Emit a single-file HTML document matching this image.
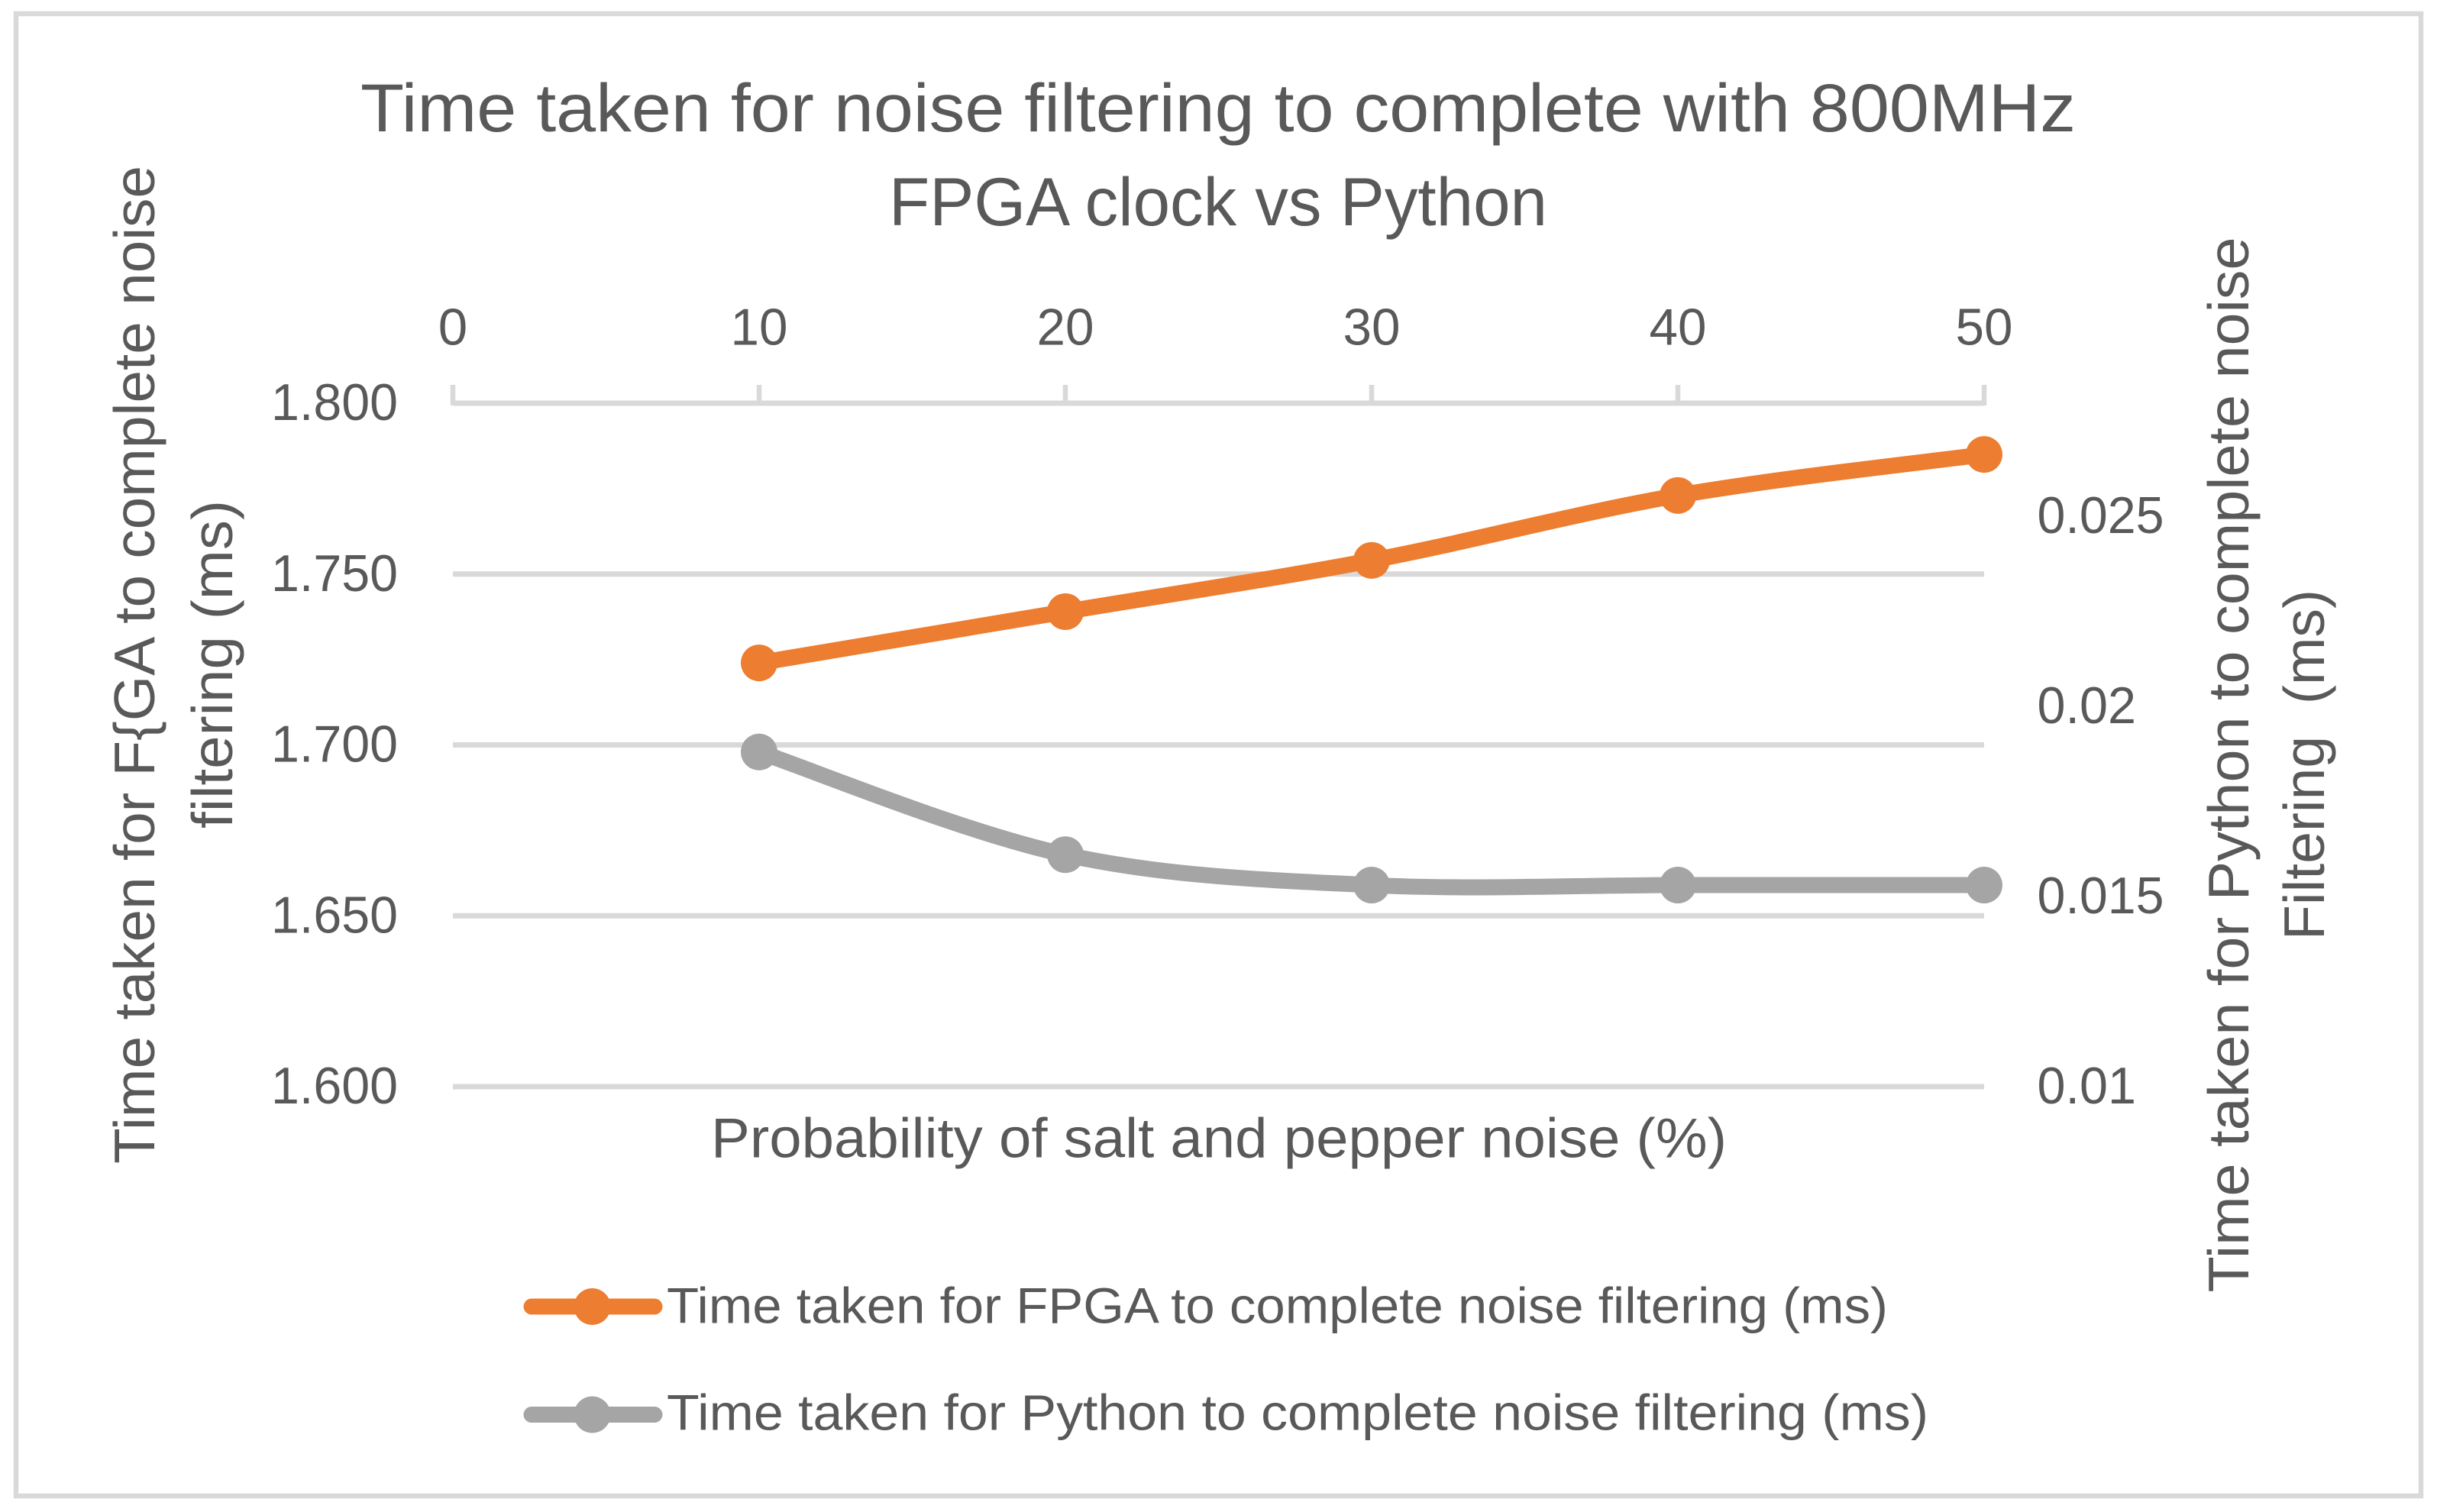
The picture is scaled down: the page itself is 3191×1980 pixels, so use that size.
<!DOCTYPE html>
<html lang="en">
<head>
<meta charset="utf-8">
<title>Time taken for noise filtering</title>
<style>
html,body{margin:0;padding:0;background:#fff;}
svg{display:block;}
text{font-family:"Liberation Sans",sans-serif;fill:#595959;}
</style>
</head>
<body>
<svg id="chart" xmlns="http://www.w3.org/2000/svg" width="3191" height="1980" viewBox="0 0 3191 1980">
  <rect x="0" y="0" width="3191" height="1980" fill="#fff"/>
  <rect x="21" y="18" width="3149" height="1941" fill="#fff" stroke="#d9d9d9" stroke-width="6.5"/>
  <g id="grid"></g>
  <g id="top-axis"></g>
  <g id="left-axis"></g>
  <g id="right-axis"></g>
  <g id="series"></g>

  <g>
    <text x="472" y="172" font-size="89" textLength="2246" lengthAdjust="spacingAndGlyphs">Time taken for noise filtering to complete with 800MHz</text>
    <text x="1164" y="295" font-size="89" textLength="862" lengthAdjust="spacingAndGlyphs">FPGA clock vs Python</text>
  </g>

  <text x="931" y="1515.5" font-size="73" textLength="1330" lengthAdjust="spacingAndGlyphs">Probability of salt and pepper noise (%)</text>

  <g>
    <text transform="translate(202,1524) rotate(-90)" font-size="75" textLength="1307" lengthAdjust="spacingAndGlyphs">Time taken for F{GA to complete noise</text>
    <text transform="translate(304,1085) rotate(-90)" font-size="75" textLength="430" lengthAdjust="spacingAndGlyphs">filtering (ms)</text>
  </g>
  <g>
    <text transform="translate(2944,1692.5) rotate(-90)" font-size="75" textLength="1382" lengthAdjust="spacingAndGlyphs">Time taken for Python to complete noise</text>
    <text transform="translate(3043,1231) rotate(-90)" font-size="75" textLength="459" lengthAdjust="spacingAndGlyphs" xml:space="preserve">Filtering  (ms)</text>
  </g>

  <g>
    <g>
      <line x1="696" y1="1711" x2="857" y2="1711" stroke="#ed7d31" stroke-width="21" stroke-linecap="round"/>
      <circle cx="775.5" cy="1711" r="24" fill="#ed7d31"/>
      <text x="873" y="1732.5" font-size="66" textLength="1599" lengthAdjust="spacingAndGlyphs">Time taken for FPGA to complete noise filtering (ms)</text>
    </g>
    <g>
      <line x1="696" y1="1852.5" x2="857" y2="1852.5" stroke="#a5a5a5" stroke-width="21" stroke-linecap="round"/>
      <circle cx="775.5" cy="1852.5" r="24" fill="#a5a5a5"/>
      <text x="873" y="1872.5" font-size="66" textLength="1652" lengthAdjust="spacingAndGlyphs">Time taken for Python to complete noise filtering (ms)</text>
    </g>
  </g>
</svg>
<script>
const xTickLabels = ["0", "10", "20", "30", "40", "50"];
const leftTickLabels = ["1.800", "1.750", "1.700", "1.650", "1.600"];
const rightTickLabels = ["0.025", "0.02", "0.015", "0.01"];
const categories = [10, 20, 30, 40, 50];
const fpgaValues = [1.724, 1.739, 1.754, 1.773, 1.785];
const pythonValues = [0.0188, 0.0161, 0.0153, 0.0153, 0.0153];

const SVGNS = "http://www.w3.org/2000/svg";
function xScale(v) { return 593 + (v - 0) * (2598 - 593) / 50; }
function yLeft(v) { return 1423 + (v - 1.6) * (528 - 1423) / 0.2; }
function yRight(v) { return 1423 + (v - 0.01) * (676 - 1423) / 0.015; }
function labelWidth(s) {
  const digits = s.replace(/[^0-9]/g, "").length;
  const dots = s.length - digits;
  return digits * 36.5 + dots * 18;
}
function smoothPath(pts) {
  let d = "M" + pts[0][0] + " " + pts[0][1];
  for (let i = 0; i < pts.length - 1; i++) {
    const p0 = pts[Math.max(i - 1, 0)];
    const p1 = pts[i];
    const p2 = pts[i + 1];
    const p3 = pts[Math.min(i + 2, pts.length - 1)];
    const c1x = p1[0] + (p2[0] - p0[0]) / 6;
    const c1y = p1[1] + (p2[1] - p0[1]) / 6;
    const c2x = p2[0] - (p3[0] - p1[0]) / 6;
    const c2y = p2[1] - (p3[1] - p1[1]) / 6;
    d += " C" + c1x + " " + c1y + " " + c2x + " " + c2y + " " + p2[0] + " " + p2[1];
  }
  return d;
}
function make(tag, attrs, parent) {
  const el = document.createElementNS(SVGNS, tag);
  for (const k in attrs) el.setAttribute(k, attrs[k]);
  parent.appendChild(el);
  return el;
}

const gridG = document.getElementById("grid");
const topG = document.getElementById("top-axis");
const leftG = document.getElementById("left-axis");
const rightG = document.getElementById("right-axis");
const seriesG = document.getElementById("series");

leftTickLabels.forEach(function (label) {
  const v = parseFloat(label);
  const y = yLeft(v);
  const gl = make("line", { x1: xScale(0), x2: xScale(50), y1: y, y2: y, stroke: "#d9d9d9", "stroke-width": 7 }, gridG);
  
  
  const t = make("text", { x: 355, y: y + 22, "font-size": 68, textLength: labelWidth(label) + 2, lengthAdjust: "spacingAndGlyphs" }, leftG);
  t.textContent = label;
  
  
});

xTickLabels.forEach(function (label) {
  const v = parseFloat(label);
  const x = xScale(v);
  const tick = make("line", { x1: x, x2: x, y1: 504, y2: 531, stroke: "#d9d9d9", "stroke-width": 6.5 }, topG);
  
  
  const t = make("text", { x: x, y: 451.5, "font-size": 68, "text-anchor": "middle", textLength: labelWidth(label) + 2, lengthAdjust: "spacingAndGlyphs" }, topG);
  t.textContent = label;
  
  
});

rightTickLabels.forEach(function (label) {
  const v = parseFloat(label);
  const y = yRight(v);
  const t = make("text", { x: 2667.5, y: y + 22, "font-size": 68, textLength: labelWidth(label) + 2, lengthAdjust: "spacingAndGlyphs" }, rightG);
  t.textContent = label;
  
  
});

function drawSeries(values, scale, color, name) {
  const pts = categories.map(function (c, i) { return [xScale(c), scale(values[i])]; });
  const path = make("path", { d: smoothPath(pts), fill: "none", stroke: color, "stroke-width": 21, "stroke-linecap": "round", "stroke-linejoin": "round" }, seriesG);
  
  
  pts.forEach(function (p) {
    const c = make("circle", { cx: p[0], cy: p[1], r: 24, fill: color }, seriesG);
    
    
  });
}
drawSeries(pythonValues, yRight, "#a5a5a5", "python-series");
drawSeries(fpgaValues, yLeft, "#ed7d31", "fpga-series");
</script>
</body>
</html>
